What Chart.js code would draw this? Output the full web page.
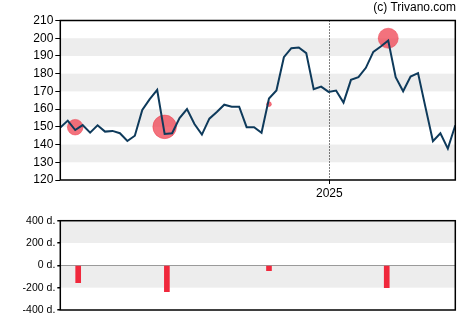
<!DOCTYPE html>
<html>
<head>
<meta charset="utf-8">
<script src="https://cdn.jsdelivr.net/npm/chart.js@4.4.1/dist/chart.umd.min.js"></script>
<style>
  body { margin: 0; background: #fff; }
  #wrap { position: relative; width: 470px; height: 325px; }
  #top { position: absolute; left: 0; top: 0; width: 470px; height: 200px; }
  #bot { position: absolute; left: 0; top: 200px; width: 470px; height: 125px; }
  #copy { position: absolute; right: 14px; top: 0px; font: 12px "Liberation Sans", Arial, sans-serif; color: #000; }
</style>
</head>
<body>
<div id="wrap">
  <div id="top"><canvas id="priceChart"></canvas></div>
  <div id="bot"><canvas id="daysChart"></canvas></div>
  <div id="copy">(c) Trivano.com</div>
</div>
<script>
// weekly closing prices
var prices = [149.6, 153.5, 148.2, 151, 146.7, 150.9, 147.3, 147.7, 146.4, 142,
  145, 159.5, 165.6, 170.8, 146, 146.4, 154.9, 160, 151.6, 145.6,
  154.6, 158.4, 162.5, 161.4, 161.4, 149.8, 149.8, 146.7, 166, 170.5,
  189.3, 194.4, 194.8, 191.6, 171.2, 172.7, 169.7, 170.5, 163.7, 176.5,
  178, 183.3, 192.3, 195.3, 198.7, 178, 170.1, 178.4, 180.3, 161,
  141.9, 146.4, 137.7, 150.9];

// signal events: week index, price level, duration in days
var eventWeek = [2, 14, 28, 44];
var eventPrice = [149.8, 150, 162.8, 200];
var eventDays = [-156, -236, -48, -200];
var barWeek = [2.4, 14.3, 28, 43.8];

var yearLabel = '2025';
var yearWeek = 36.1;

var priceTicks = [120, 130, 140, 150, 160, 170, 180, 190, 200, 210];
var daysTicks = [-400, -200, 0, 200, 400];

var FONT = '"Liberation Sans", Arial, sans-serif';
var BAND = '#ededed';

// gray bands + black frame
function bandsPlugin(bands) {
  return {
    id: 'bands',
    beforeDatasetsDraw: function(chart) {
      var c = chart.ctx, a = chart.chartArea, y = chart.scales.y;
      c.save();
      c.fillStyle = BAND;
      bands.forEach(function(b) {
        var y1 = y.getPixelForValue(b[1]), y0 = y.getPixelForValue(b[0]);
        c.fillRect(a.left, y1, a.right - a.left, y0 - y1);
      });
      c.restore();
    },
    afterDraw: function(chart) {
      var c = chart.ctx, a = chart.chartArea;
      c.save();
      c.strokeStyle = '#000';
      c.lineWidth = 1.5;
      c.strokeRect(a.left, a.top, a.right - a.left, a.bottom - a.top);
      c.restore();
    }
  };
}

var lineData = prices.map(function(v, i) { return {x: i, y: v}; });
var circleData = eventWeek.map(function(w, i) { return {x: w, y: eventPrice[i], d: eventDays[i]}; });

new Chart(document.getElementById('priceChart'), {
  type: 'line',
  data: {
    datasets: [{
      data: lineData,
      borderColor: '#0e3a5b',
      borderWidth: 2,
      pointRadius: 0,
      tension: 0,
      order: 1
    }, {
      type: 'scatter',
      data: circleData,
      backgroundColor: 'rgba(238, 60, 75, 0.72)',
      borderColor: 'rgba(238, 60, 75, 0.5)',
      borderWidth: 1,
      pointRadius: function(ctx) { return Math.abs(ctx.raw.d) / 20; },
      order: 2
    }]
  },
  options: {
    responsive: true,
    maintainAspectRatio: false,
    animation: false,
    layout: { padding: { left: 0, right: 14.7, top: 20.5, bottom: 0 } },
    plugins: { legend: { display: false }, tooltip: { enabled: false } },
    scales: {
      x: {
        type: 'linear',
        min: 0,
        max: 53,
        afterBuildTicks: function(axis) { axis.ticks = [{value: yearWeek}]; },
        afterFit: function(axis) { axis.height = 20; },
        ticks: {
          callback: function() { return yearLabel; },
          color: '#000',
          font: { family: FONT, size: 12 },
          padding: 2,
          maxRotation: 0
        },
        grid: {
          color: '#000',
          lineWidth: 1,
          tickLength: 4,
          drawOnChartArea: false
        },
        border: { display: false }
      },
      y: {
        min: 120,
        max: 210,
        afterBuildTicks: function(axis) { axis.ticks = priceTicks.map(function(v) { return {value: v}; }); },
        afterFit: function(axis) { axis.width = 60.3; },
        ticks: {
          color: '#000',
          font: { family: FONT, size: 12 },
          padding: 2
        },
        grid: { drawOnChartArea: false, color: '#000', tickLength: 5 },
        border: { display: false }
      }
    }
  },
  plugins: [bandsPlugin([[190, 200], [170, 180], [150, 160], [130, 140]]), {
    id: 'dotted',
    beforeDatasetsDraw: function(chart) {
      // dotted year marker over the bands
      var c = chart.ctx, a = chart.chartArea;
      var x = Math.round(chart.scales.x.getPixelForValue(yearWeek)) + 0.5;
      c.save();
      c.strokeStyle = '#000';
      c.lineWidth = 1;
      c.setLineDash([1, 2]);
      c.beginPath();
      c.moveTo(x, a.top);
      c.lineTo(x, a.bottom);
      c.stroke();
      c.restore();
    }
  }]
});

var barData = barWeek.map(function(w, i) { return {x: w, y: eventDays[i]}; });

new Chart(document.getElementById('daysChart'), {
  type: 'bar',
  data: {
    datasets: [{
      data: barData,
      backgroundColor: '#f0283c',
      barThickness: 5
    }]
  },
  options: {
    responsive: true,
    maintainAspectRatio: false,
    animation: false,
    layout: { padding: { left: 0, right: 14.7, top: 20.7, bottom: 15 } },
    plugins: { legend: { display: false }, tooltip: { enabled: false } },
    scales: {
      x: {
        type: 'linear',
        min: 0,
        max: 53,
        offset: false,
        display: false
      },
      y: {
        min: -400,
        max: 400,
        afterBuildTicks: function(axis) { axis.ticks = daysTicks.map(function(v) { return {value: v}; }); },
        afterFit: function(axis) { axis.width = 60.3; },
        ticks: {
          color: '#000',
          font: { family: FONT, size: 10.5 },
          padding: 2,
          callback: function(v) { return v + ' d.'; }
        },
        grid: {
          color: function(ctx) { return ctx.tick && ctx.tick.value === 0 ? '#000' : 'rgba(0,0,0,0)'; },
          tickColor: '#000',
          lineWidth: 1.5,
          tickLength: 3
        },
        border: { display: false }
      }
    }
  },
  plugins: [bandsPlugin([[200, 400], [-200, 0]])]
});
</script>
</body>
</html>
